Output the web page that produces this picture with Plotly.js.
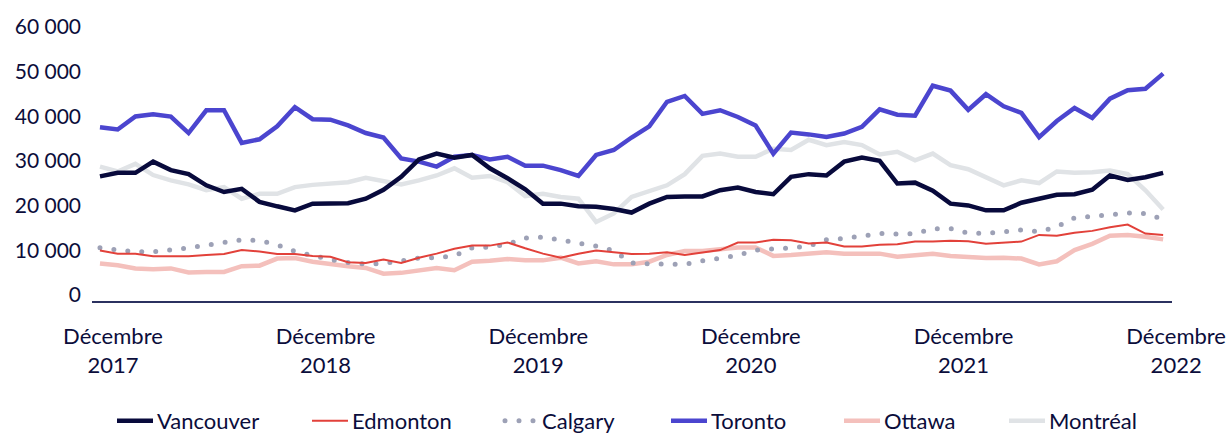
<!DOCTYPE html>
<html>
<head>
<meta charset="utf-8">
<script src="https://cdn.plot.ly/plotly-3.0.1.min.js"></script>
<style>
  html, body { margin: 0; padding: 0; background: #ffffff; }
  #chart { width: 1232px; height: 433px; }
</style>
</head>
<body>
<div id="chart"></div>
<script>
// Monthly values, December 2017 to December 2022 (61 months)
const vancouver = [27900,28700,28700,31200,29300,28400,25900,24400,25100,22200,21200,20300,21800,21900,21900,22900,24900,27800,31700,33000,32100,32700,29700,27500,25000,21800,21800,21200,21100,20600,19800,21800,23300,23400,23400,24800,25400,24400,23900,27800,28400,28100,31200,32100,31400,26300,26500,24700,21800,21400,20300,20300,22000,22900,23800,23900,24900,28100,27100,27700,28700];
const edmonton = [11300,10600,10600,10000,10000,10000,10300,10500,11400,11100,10500,10500,10100,9900,8700,8500,9300,8500,9700,10600,11700,12400,12400,13100,11800,10600,9700,10600,11300,10900,10500,10600,10900,10300,10900,11400,13100,13100,13700,13600,12900,13100,12200,12200,12600,12700,13300,13300,13500,13400,12800,13100,13300,14800,14600,15300,15700,16500,17100,15100,14800];
const calgary = [11900,11400,11000,11000,11400,11900,12500,13100,13700,13500,12600,11100,10100,9300,8600,8300,8400,8900,9600,9700,10100,11900,12100,12700,14100,14300,13700,12900,12300,11300,8500,8300,8300,8200,9000,9600,10200,11400,11600,11900,12300,13700,14000,14600,15100,15000,15100,16200,16200,15200,15100,15500,15900,15500,16600,18600,19000,19400,19700,19600,18300];
const toronto = [38900,38400,41300,41800,41300,37600,42700,42700,35400,36200,39100,43400,40700,40600,39300,37600,36600,31900,31200,30100,32300,32700,31700,32300,30300,30300,29300,28000,32700,33800,36600,39100,44600,45900,41900,42700,41200,39300,33000,37700,37300,36700,37500,39000,42900,41700,41500,48200,47100,42800,46300,43600,42100,36700,40300,43200,41000,45300,47200,47500,50900];
const ottawa = [8400,8000,7300,7100,7300,6400,6500,6500,7800,7900,9500,9600,8800,8200,7800,7400,6100,6300,6900,7400,6900,8800,9000,9400,9100,9100,9700,8400,8900,8200,8200,8800,10300,11200,11200,11600,12000,12000,10100,10300,10600,10900,10600,10600,10600,9900,10300,10600,10100,9900,9600,9700,9500,8200,8900,11400,12800,14600,14800,14400,13800];
const montreal = [30100,29000,30700,28200,27000,26100,24800,25500,22900,24000,24000,25500,26000,26300,26600,27600,26800,26100,27000,28100,29700,27600,28000,26600,23500,24000,23300,22900,17700,19600,23300,24600,25900,28400,32500,33000,32300,32300,34100,33800,36100,34900,35600,34900,32800,33400,31500,33000,30400,29500,27800,25900,27000,26400,29000,28700,28800,29200,28400,24800,20500];

const tickPositions = [0, 12, 24, 36, 48, 60];
const xTickLabels = ["Décembre<br>2017", "Décembre<br>2018", "Décembre<br>2019", "Décembre<br>2020", "Décembre<br>2021", "Décembre<br>2022"];
const yTickValues = [0, 10000, 20000, 30000, 40000, 50000, 60000];
const yTickLabels = ["0", "10 000", "20 000", "30 000", "40 000", "50 000", "60 000"];

const monthIndex = vancouver.map((_, i) => i);

const FONT = "Lato, 'Open Sans', sans-serif";
const TEXT = "#0b0d3b";

function tr(name, y, color, width, legendId, dash) {
  return {
    type: "scatter", mode: "lines", name: name,
    x: monthIndex, y: y, legend: legendId,
    line: { color: color, width: width, dash: dash || "solid", shape: "linear" },
    hoverinfo: "skip"
  };
}

// drawn in reverse so earlier legend entries sit on top
const traces = [
  tr("Montréal", montreal, "#e0e3e6", 4.5, "legend6"),
  tr("Ottawa", ottawa, "#f4c0bc", 4.5, "legend5"),
  tr("Toronto", toronto, "#4b45cf", 4.5, "legend4"),
  tr("Calgary", calgary, "#9da1b6", 5, "legend3", "0px,14px"),
  tr("Edmonton", edmonton, "#e2413a", 2, "legend2"),
  tr("Vancouver", vancouver, "#080a3c", 4.5, "legend")
];

function leg(px) {
  return {
    orientation: "h",
    xref: "container", yref: "container",
    x: px / 1232, xanchor: "left", y: 0.028, yanchor: "middle",
    font: { family: FONT, size: 22, color: TEXT },
    bgcolor: "rgba(0,0,0,0)", borderwidth: 0
  };
}

const layout = {
  width: 1232, height: 433,
  margin: { l: 92, r: 60, t: 33, b: 132, pad: 0 },
  paper_bgcolor: "#ffffff", plot_bgcolor: "#ffffff",
  font: { family: FONT, size: 21, color: TEXT },
  showlegend: true,
  legend: leg(117),
  legend2: leg(312),
  legend3: leg(502),
  legend4: leg(671),
  legend5: leg(844),
  legend6: leg(1009),
  xaxis: {
    range: [-0.45, 60.5],
    showgrid: false, zeroline: false,
    showline: true, linecolor: "#2b3160", linewidth: 1.5,
    ticks: "", tickmode: "array", tickvals: tickPositions, ticktext: xTickLabels,
    ticklabelshift: 13, ticklabelstandoff: 15,
    tickfont: { family: FONT, size: 22, color: TEXT },
    fixedrange: true
  },
  yaxis: {
    range: [0, 60000],
    showgrid: false, zeroline: false, showline: false,
    ticks: "", tickmode: "array", tickvals: yTickValues, ticktext: yTickLabels,
    ticklabelshift: -6, ticklabelstandoff: 10,
    tickfont: { family: FONT, size: 21, color: TEXT },
    fixedrange: true
  }
};

Plotly.newPlot("chart", traces, layout, { displayModeBar: false, staticPlot: true }).then(function () {
  document.querySelectorAll("g.legendlines path").forEach(function (p) {
    p.setAttribute("d", "M-11,0h47");
  });
  document.querySelectorAll("path.js-line").forEach(function (p) {
    const d = p.style.strokeDasharray;
    if (d && d !== "none" && d !== "") p.style.strokeLinecap = "round";
  });
});
</script>
</body>
</html>
